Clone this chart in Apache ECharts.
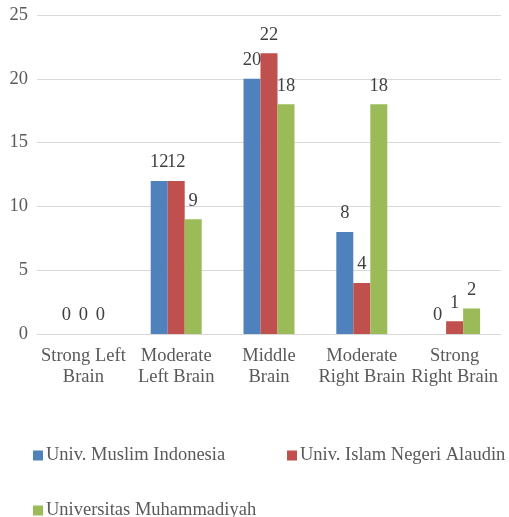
<!DOCTYPE html>
<html>
<head>
<meta charset="utf-8">
<script src="https://cdn.jsdelivr.net/npm/echarts@6/dist/echarts.min.js"></script>
<style>
  html, body { margin: 0; padding: 0; background: #fff; }
  #chart { width: 509px; height: 517px; }
</style>
</head>
<body>
<div id="chart"></div>
<script>
const categories = ['Strong Left\nBrain', 'Moderate\nLeft Brain', 'Middle\nBrain', 'Moderate\nRight Brain', 'Strong\nRight Brain']
const seriesNames = ['Univ. Muslim Indonesia', 'Univ. Islam Negeri Alaudin', 'Universitas Muhammadiyah']
const umiValues = [0, 12, 20, 8, 0]
const uinValues = [0, 12, 22, 4, 1]
const unismuhValues = [0, 9, 18, 18, 2]
const colors = ['#4f81bd', '#c0504d', '#9bbb59']

const font = 'Liberation Serif, Times New Roman, serif'
const fs = 18.5
const chart = echarts.init(document.getElementById('chart'))

function barSeries(name, data, color) {
  return {
    name: name,
    type: 'bar',
    data: data,
    barWidth: 17,
    barGap: '0%',
    itemStyle: { color: color },
    label: {
      show: true,
      position: 'top',
      distance: 9,
      fontFamily: font,
      fontSize: fs,
      color: '#404040'
    }
  }
}

// one legend per entry so the two-row layout stays put
function legendItem(name, left, top) {
  return {
    data: [name],
    left: left,
    top: top,
    padding: 0,
    itemWidth: 10,
    itemHeight: 10,
    icon: 'rect',
    textStyle: { fontFamily: font, fontSize: fs, color: '#595959', padding: [0, 0, 0, -2] }
  }
}

chart.setOption({
  animation: false,
  textStyle: { fontFamily: font },
  grid: {
    left: 37,
    right: 8,
    top: 15,
    bottom: 183
  },
  legend: [
    legendItem(seriesNames[0], 33, 446),
    legendItem(seriesNames[1], 287, 446),
    legendItem(seriesNames[2], 33, 501)
  ],
  xAxis: {
    type: 'category',
    data: categories,
    axisTick: { show: false },
    axisLine: { lineStyle: { color: '#d9d9d9' } },
    axisLabel: {
      interval: 0,
      fontFamily: font,
      fontSize: fs,
      lineHeight: 21,
      color: '#595959',
      margin: 12
    }
  },
  yAxis: {
    type: 'value',
    min: 0,
    max: 25,
    interval: 5,
    axisLine: { show: false },
    axisTick: { show: false },
    splitLine: { lineStyle: { color: '#d9d9d9' } },
    axisLabel: {
      fontFamily: font,
      fontSize: fs,
      color: '#595959',
      margin: 9
    }
  },
  series: [
    barSeries(seriesNames[0], umiValues, colors[0]),
    barSeries(seriesNames[1], uinValues, colors[1]),
    barSeries(seriesNames[2], unismuhValues, colors[2])
  ]
})
</script>
</body>
</html>
